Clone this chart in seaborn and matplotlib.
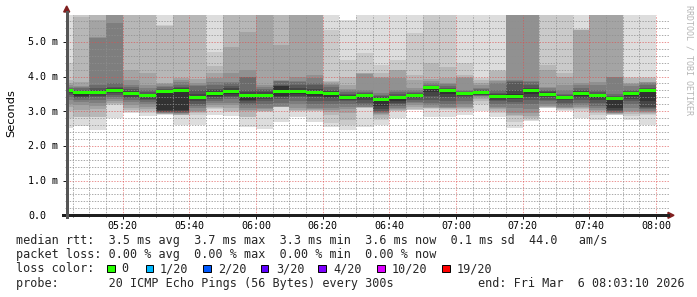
import numpy as np
import matplotlib
matplotlib.use("Agg")
import matplotlib.pyplot as plt
import seaborn as sns
from matplotlib import transforms
from matplotlib.lines import Line2D
from matplotlib.patches import Polygon, Rectangle

# ---------------- data ----------------
times = ["05:00", "05:05", "05:10", "05:15", "05:20", "05:25", "05:30", "05:35", "05:40",
         "05:45", "05:50", "05:55", "06:00", "06:05", "06:10", "06:15", "06:20", "06:25",
         "06:30", "06:35", "06:40", "06:45", "06:50", "06:55", "07:00", "07:05", "07:10",
         "07:15", "07:20", "07:25", "07:30", "07:35", "07:40", "07:45", "07:50", "07:55"]

# 20 sorted ping RTTs per 5-minute step (ms)
ping01 = [2.51, 2.58, 2.46, 2.79, 2.94, 2.86, 2.89, 2.60, 2.60, 2.89, 2.86, 2.55, 2.48, 2.70, 2.84, 2.70, 2.55, 2.46, 2.55, 2.60, 2.80, 3.03, 2.84, 2.84, 2.89, 3.00, 2.84, 2.51, 2.72, 3.09, 3.00, 2.80, 2.75, 2.89, 2.75, 2.60]
ping02 = [2.80, 2.82, 2.82, 3.18, 2.98, 2.94, 2.91, 2.88, 2.90, 3.07, 2.98, 2.82, 2.98, 3.12, 3.00, 3.00, 2.65, 2.60, 3.09, 2.75, 3.00, 3.04, 3.06, 3.04, 3.00, 3.20, 2.95, 2.70, 2.76, 3.10, 3.04, 3.00, 2.90, 2.90, 2.85, 2.90]
ping03 = [3.02, 2.84, 2.84, 3.20, 3.03, 3.00, 2.92, 2.89, 2.95, 3.10, 3.00, 2.84, 3.00, 3.12, 3.02, 3.02, 2.90, 2.75, 3.10, 2.80, 3.02, 3.06, 3.08, 3.06, 3.05, 3.30, 3.00, 2.85, 2.80, 3.12, 3.06, 3.05, 2.95, 2.91, 2.93, 2.93]
ping04 = [3.12, 3.03, 3.05, 3.24, 3.10, 3.05, 2.93, 2.90, 2.97, 3.13, 3.10, 3.00, 3.02, 3.13, 3.04, 3.03, 2.98, 2.95, 3.11, 2.90, 3.03, 3.12, 3.10, 3.08, 3.10, 3.35, 3.05, 2.90, 2.85, 3.13, 3.08, 3.10, 3.00, 2.92, 2.98, 2.96]
ping05 = [3.22, 3.18, 3.15, 3.30, 3.18, 3.12, 2.94, 2.92, 3.00, 3.18, 3.18, 3.04, 3.05, 3.13, 3.10, 3.05, 3.03, 3.05, 3.12, 2.93, 3.05, 3.18, 3.13, 3.10, 3.13, 3.40, 3.10, 2.95, 2.95, 3.15, 3.10, 3.13, 3.03, 2.94, 3.00, 2.98]
ping06 = [3.32, 3.26, 3.25, 3.36, 3.27, 3.20, 2.95, 2.94, 3.08, 3.24, 3.25, 3.10, 3.10, 3.15, 3.20, 3.10, 3.10, 3.12, 3.13, 2.95, 3.10, 3.23, 3.18, 3.13, 3.20, 3.43, 3.13, 3.10, 3.05, 3.20, 3.13, 3.18, 3.08, 2.96, 3.10, 3.00]
ping07 = [3.40, 3.32, 3.33, 3.42, 3.32, 3.27, 2.97, 2.96, 3.15, 3.30, 3.35, 3.18, 3.20, 3.25, 3.30, 3.20, 3.20, 3.20, 3.18, 2.98, 3.15, 3.26, 3.25, 3.20, 3.30, 3.44, 3.20, 3.20, 3.20, 3.28, 3.18, 3.25, 3.15, 2.98, 3.20, 3.05]
ping08 = [3.46, 3.37, 3.40, 3.47, 3.38, 3.32, 2.99, 2.98, 3.20, 3.35, 3.40, 3.25, 3.30, 3.35, 3.40, 3.30, 3.30, 3.28, 3.25, 3.00, 3.20, 3.32, 3.32, 3.30, 3.38, 3.46, 3.28, 3.27, 3.32, 3.33, 3.25, 3.32, 3.25, 3.00, 3.30, 3.10]
ping09 = [3.52, 3.40, 3.45, 3.52, 3.42, 3.36, 3.01, 3.00, 3.30, 3.40, 3.44, 3.30, 3.35, 3.40, 3.45, 3.40, 3.38, 3.33, 3.32, 3.05, 3.23, 3.38, 3.45, 3.40, 3.43, 3.48, 3.33, 3.35, 3.40, 3.40, 3.32, 3.38, 3.33, 3.03, 3.35, 3.13]
ping10 = [3.57, 3.45, 3.50, 3.57, 3.46, 3.40, 3.03, 3.03, 3.36, 3.45, 3.50, 3.33, 3.40, 3.43, 3.50, 3.45, 3.42, 3.37, 3.38, 3.15, 3.30, 3.42, 3.55, 3.50, 3.46, 3.50, 3.38, 3.40, 3.50, 3.45, 3.36, 3.45, 3.38, 3.10, 3.44, 3.30]
ping11 = [3.62, 3.57, 3.58, 3.63, 3.53, 3.47, 3.60, 3.63, 3.44, 3.56, 3.61, 3.50, 3.50, 3.72, 3.61, 3.58, 3.55, 3.43, 3.48, 3.38, 3.42, 3.48, 3.69, 3.63, 3.53, 3.56, 3.47, 3.50, 3.63, 3.52, 3.43, 3.55, 3.47, 3.39, 3.53, 3.62]
ping12 = [3.63, 3.59, 3.62, 3.66, 3.58, 3.50, 3.62, 3.66, 3.50, 3.60, 3.66, 3.55, 3.55, 3.74, 3.66, 3.65, 3.58, 3.46, 3.50, 3.41, 3.45, 3.50, 3.70, 3.65, 3.54, 3.58, 3.50, 3.60, 3.68, 3.55, 3.45, 3.57, 3.50, 3.41, 3.55, 3.64]
ping13 = [3.64, 3.62, 3.68, 3.70, 3.64, 3.54, 3.65, 3.70, 3.60, 3.65, 3.72, 3.61, 3.60, 3.76, 3.75, 3.75, 3.62, 3.50, 3.52, 3.44, 3.50, 3.52, 3.72, 3.68, 3.56, 3.60, 3.53, 3.85, 3.75, 3.58, 3.47, 3.60, 3.55, 3.45, 3.58, 3.68]
ping14 = [3.67, 3.66, 3.76, 3.80, 3.70, 3.60, 3.70, 3.75, 3.72, 3.76, 3.80, 3.98, 3.65, 3.86, 3.85, 3.80, 3.70, 3.55, 3.56, 3.48, 3.55, 3.55, 3.75, 3.72, 3.58, 3.65, 3.60, 3.88, 3.85, 3.62, 3.50, 3.68, 3.60, 3.50, 3.62, 3.75]
ping15 = [3.71, 3.70, 5.11, 5.54, 3.76, 3.68, 3.74, 3.85, 3.76, 3.85, 3.85, 4.00, 3.71, 3.88, 3.88, 3.95, 3.75, 3.60, 3.60, 3.52, 3.61, 3.60, 3.80, 3.78, 3.60, 3.68, 3.82, 3.90, 3.88, 3.66, 3.60, 3.75, 3.75, 3.98, 3.72, 3.80]
ping16 = [3.76, 3.73, 5.13, 6.00, 3.90, 3.76, 3.78, 3.90, 3.82, 3.95, 4.09, 4.20, 3.75, 3.90, 3.98, 4.05, 3.78, 3.63, 4.08, 3.96, 3.95, 3.67, 3.88, 3.82, 3.95, 3.75, 3.88, 6.00, 6.00, 3.70, 3.76, 3.81, 3.85, 4.00, 3.78, 3.83]
ping17 = [3.82, 3.85, 5.64, 6.30, 4.19, 4.09, 3.81, 3.95, 3.92, 4.10, 4.86, 5.28, 5.90, 4.91, 5.90, 5.90, 3.85, 3.75, 4.09, 4.00, 4.18, 3.90, 3.92, 3.95, 4.00, 3.80, 3.90, 6.30, 6.30, 4.20, 4.00, 5.33, 5.90, 5.90, 3.82, 3.85]
ping18 = [3.90, 5.71, 6.50, 6.60, 6.00, 6.00, 5.46, 6.00, 6.00, 4.30, 6.00, 6.00, 6.00, 6.00, 6.00, 6.00, 3.87, 3.99, 4.10, 4.10, 4.20, 4.05, 4.40, 4.28, 4.05, 3.90, 4.15, 6.60, 6.60, 4.34, 4.10, 5.35, 6.00, 6.00, 3.95, 3.95]
ping19 = [4.39, 6.20, 6.80, 6.80, 6.20, 6.20, 5.47, 6.20, 6.20, 4.72, 6.20, 6.20, 6.20, 6.20, 6.20, 6.20, 5.35, 4.48, 4.68, 4.34, 4.48, 5.26, 6.20, 6.20, 4.39, 3.96, 4.19, 7.00, 7.00, 6.20, 6.20, 5.37, 6.20, 6.20, 4.00, 4.00]
ping20 = [6.50, 6.50, 7.00, 7.00, 6.50, 6.50, 6.50, 6.50, 6.50, 6.50, 6.50, 6.50, 6.50, 6.50, 6.50, 6.50, 6.50, 5.64, 6.50, 6.50, 6.50, 6.50, 6.50, 6.50, 6.50, 6.50, 6.50, 7.50, 7.50, 6.50, 6.50, 6.50, 6.50, 6.50, 6.50, 6.50]

median_rtt = [3.61, 3.55, 3.55, 3.61, 3.50, 3.44, 3.57, 3.60, 3.40, 3.52, 3.57, 3.44,
              3.46, 3.58, 3.57, 3.53, 3.50, 3.40, 3.45, 3.35, 3.39, 3.45, 3.67, 3.61,
              3.51, 3.54, 3.43, 3.43, 3.59, 3.49, 3.40, 3.52, 3.44, 3.36, 3.50, 3.59]

x_tick_labels = ["05:20", "05:40", "06:00", "06:20", "06:40", "07:00", "07:20", "07:40", "08:00"]
y_tick_values = [0, 1, 2, 3, 4, 5]
y_tick_labels = ["0.0", "1.0 m", "2.0 m", "3.0 m", "4.0 m", "5.0 m"]
graph_start = "05:03:10"
graph_end = "08:03:10"

loss_labels = ["0", "1/20", "2/20", "3/20", "4/20", "10/20", "19/20"]
loss_colors = ["#26ff00", "#00b8ff", "#0059ff", "#5e00ff", "#7e00ff", "#dd00ff", "#ff0000"]

legend_rtt = "median rtt:  3.5 ms avg  3.7 ms max  3.3 ms min  3.6 ms now  0.1 ms sd  44.0   am/s"
legend_loss = "packet loss: 0.00 % avg  0.00 % max  0.00 % min  0.00 % now"
legend_probe = "probe:       20 ICMP Echo Pings (56 Bytes) every 300s"
legend_end = "end: Fri Mar  6 08:03:10 2026"
watermark = "RRDTOOL / TOBI OETIKER"


def to_min(s):
    parts = [int(v) for v in s.split(":")]
    while len(parts) < 3:
        parts.append(0)
    return (parts[0] - 5) * 60 + parts[1] + parts[2] / 60.0


# ---------------- figure ----------------
sns.set_theme(style="white")
plt.rcParams["font.family"] = ["DejaVu Sans"]
MONO = "DejaVu Sans Mono"

W, H = 697, 297
fig = plt.figure(figsize=(W / 100, H / 100), dpi=100)
fig.patch.set_facecolor("white")


def fx(px):
    return px / W


def fy(py):
    return 1 - py / H


X0, X1 = 66.7, 666.7
Y0, Y1 = 215.3, 15.3
PX_PER_MS = 34.7
ax = fig.add_axes([fx(X0), fy(Y0), (X1 - X0) / W, (Y0 - Y1) / H])
ax.set_facecolor("white")
ax.set_xlim(to_min(graph_start), to_min(graph_end))
ax.set_ylim(0, (Y0 - Y1) / PX_PER_MS)
sns.despine(ax=ax, left=True, bottom=True)

pings = np.sort(np.array([ping01, ping02, ping03, ping04, ping05, ping06, ping07, ping08, ping09, ping10,
                          ping11, ping12, ping13, ping14, ping15, ping16, ping17, ping18, ping19, ping20]), axis=0)
starts = np.array([to_min(t) for t in times])
edges = np.append(starts, starts[-1] + 5)


def ext(a):
    a = np.asarray(a, dtype=float)
    return np.append(a, a[-1])


# smoke bands (smokeping style)
half = 10
for i in range(half):
    c = int(190 / half * (half - (i + 1))) + 50
    colr = "#%02x%02x%02x" % (c, c, c)
    ax.fill_between(edges, ext(pings[i]), ext(pings[19 - i]), step="post",
                    color=colr, linewidth=0, antialiased=False, zorder=1)

# grid (dotted, drawn on top like rrdtool)
minor_c = (0.56, 0.56, 0.56, 0.75)
major_c = (0.87, 0.31, 0.31, 0.60)
dash = (0.5, (1.39, 1.39))
for v in np.arange(1, 29):
    y = v * 0.2
    is_major = (v % 5 == 0)
    ax.axhline(y, xmin=0, xmax=1.004, color=major_c if is_major else minor_c, lw=0.72,
               ls=dash, antialiased=True, zorder=3, clip_on=False)
for m in np.arange(5, 185, 5):
    if to_min(graph_start) < m < to_min(graph_end):
        is_major = (m % 20 == 0)
        ax.axvline(m, color=major_c if is_major else minor_c, lw=0.72, ls=dash,
                   antialiased=True, zorder=3)

# median line coloured by loss
h = 1.5 / PX_PER_MS
med = np.array(median_rtt)
ax.fill_between(edges, ext(med - h), ext(med + h), step="post", color=loss_colors[0],
                linewidth=0, antialiased=False, zorder=4)

# ticks
major_pos = [to_min(s) for s in x_tick_labels]
ax.set_xticks(major_pos)
ax.set_xticks(np.arange(5, 185, 5), minor=True)
ax.set_xticklabels([])
ax.set_yticks(y_tick_values)
ax.set_yticks(np.arange(0, 5.8, 0.2), minor=True)
ax.set_yticklabels([])
ax.tick_params(axis="both", which="major", direction="out", length=3, width=0.72, color="#1f1f1f")
ax.tick_params(axis="x", which="minor", direction="out", length=1.5, width=0.72, color="#444444")
ax.tick_params(axis="y", which="minor", direction="out", length=1.5, width=0.6, color="#9a9a9a")
ax.tick_params(axis="x", which="both", bottom=True)
ax.tick_params(axis="y", which="both", left=True)

# tick labels
tx = transforms.blended_transform_factory(ax.transData, fig.transFigure)
for pos, lab in zip(major_pos, x_tick_labels):
    ax.text(pos, fy(228.6), lab, transform=tx, ha="center", va="baseline",
            family=MONO, fontsize=7.2, color="black", clip_on=False)
ty = transforms.blended_transform_factory(fig.transFigure, ax.transData)
for val, lab in zip(y_tick_values, y_tick_labels):
    ax.text(fx(28.5), val - 3.5 / PX_PER_MS, lab, transform=ty, ha="left", va="baseline",
            family=MONO, fontsize=7.2, color="black", clip_on=False)

fig.text(fx(11), fy(113), "Seconds", rotation=90, ha="center", va="center", fontsize=8.2, color="black")

# axes lines and arrows
arrow_c = "#801f1f"
axis_c = "#1f1f1f"
fig.add_artist(Line2D([fx(61.7), fx(668.5)], [fy(Y0), fy(Y0)], color=axis_c, lw=0.75,
                      transform=fig.transFigure, antialiased=False))
fig.add_artist(Line2D([fx(X0), fx(X0)], [fy(217.5), fy(11)], color="#555555", lw=0.75,
                      transform=fig.transFigure, antialiased=False))
fig.add_artist(Polygon([[fx(668), fy(Y0 - 3)], [fx(674), fy(Y0)], [fx(668), fy(Y0 + 3)]],
                       closed=True, color=arrow_c, transform=fig.transFigure))
fig.add_artist(Polygon([[fx(X0 - 3), fy(12)], [fx(X0), fy(6)], [fx(X0 + 3), fy(12)]],
                       closed=True, color=arrow_c, transform=fig.transFigure))

# watermark
fig.text(fx(688.5), fy(5), watermark, rotation=270, ha="center", va="top",
         family=MONO, fontsize=6.0, color="#b5b5b5")

# legend
LEG = 8.5
fig.text(fx(16), fy(244.3), legend_rtt, family=MONO, fontsize=LEG, va="baseline", ha="left")
fig.text(fx(16), fy(258.4), legend_loss, family=MONO, fontsize=LEG, va="baseline", ha="left")
fig.text(fx(16), fy(272.5), "loss color:", family=MONO, fontsize=LEG, va="baseline", ha="left")
sq_x = [107.3, 145.7, 203.0, 260.7, 318.0, 377.3, 442.3]
lab_x = [121.7, 160.0, 218.0, 275.7, 333.0, 391.7, 456.7]
for sx, lx, lab, colr in zip(sq_x, lab_x, loss_labels, loss_colors):
    fig.add_artist(Rectangle((fx(sx), fy(272.0)), 7.5 / W, 7.5 / H, facecolor=colr,
                             edgecolor="black", lw=0.7, transform=fig.transFigure))
    fig.text(fx(lx), fy(272.5), lab, family=MONO, fontsize=LEG, va="baseline", ha="left")
fig.text(fx(16), fy(286.6), legend_probe, family=MONO, fontsize=LEG, va="baseline", ha="left")
fig.text(fx(478.3), fy(286.6), legend_end, family=MONO, fontsize=LEG, va="baseline", ha="left")

fig.savefig("out.png", dpi=100, facecolor="white")
